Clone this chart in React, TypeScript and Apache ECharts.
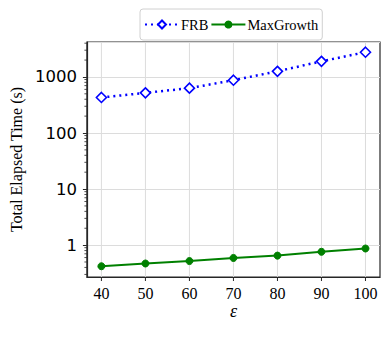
import React, { useEffect, useRef } from "react";
import * as echarts from "echarts";

const EPSILON = [40, 50, 60, 70, 80, 90, 100];
const FRB = [430, 520, 630, 875, 1260, 1900, 2760];
const MAX_GROWTH = [0.42, 0.47, 0.52, 0.59, 0.65, 0.76, 0.87];
const MINOR_TICKS = [
  0.3, 0.4, 0.5, 0.6, 0.7, 0.8, 0.9,
  2, 3, 4, 5, 6, 7, 8, 9,
  20, 30, 40, 50, 60, 70, 80, 90,
  200, 300, 400, 500, 600, 700, 800, 900,
  2000, 3000, 4000,
];
const X_MIN = 36.7;
const X_MAX = 103.3;
const Y_MIN = 0.27;
const Y_MAX = 4200;

export default function App() {
  const ref = useRef<HTMLDivElement>(null);
  useEffect(() => {
    if (!ref.current) return;
    const chart = echarts.init(ref.current, null, { renderer: "svg" });
    const serif = "Liberation Serif";
    chart.setOption({
      animation: false,
      backgroundColor: "#fff",
      grid: {
        left: 85,
        right: 11,
        top: 42,
        bottom: 60,
        show: true,
        borderColor: "#262626",
        borderWidth: 1.2,
        backgroundColor: "transparent",
      },
      legend: {
        top: 9,
        left: 140,
        data: ["FRB", "MaxGrowth"],
        itemWidth: 34,
        itemHeight: 10,
        itemGap: 2,
        borderColor: "#d0d0d0",
        borderWidth: 1,
        borderRadius: 3,
        padding: [8, 4, 8, 4],
        textStyle: { fontFamily: serif, fontSize: 14.5, color: "#000", padding: [0, 0, 0, -3] },
      },
      xAxis: {
        type: "value",
        min: X_MIN,
        max: X_MAX,
        name: "ε",
        nameLocation: "middle",
        nameGap: 32,
        nameTextStyle: { fontFamily: serif, fontStyle: "italic", fontSize: 18, color: "#000", lineHeight: 4 },
        axisLine: { show: true, lineStyle: { color: "#262626", width: 1.2 } },
        axisTick: { show: false },
        axisLabel: { show: false },
        splitLine: { show: false },
      },
      yAxis: {
        type: "log",
        logBase: 10,
        min: Y_MIN,
        max: Y_MAX,
        name: "Total Elapsed Time (s)",
        nameLocation: "middle",
        nameGap: 62,
        nameTextStyle: { fontFamily: serif, fontSize: 16, color: "#000" },
        axisLine: { show: true, lineStyle: { color: "#262626", width: 1.2 } },
        axisTick: { show: true, length: 4, lineStyle: { color: "#262626" } },
        axisLabel: {
          showMinLabel: false,
          showMaxLabel: false,
          fontFamily: "DejaVu Sans",
          fontSize: 16.5,
          color: "#000",
          margin: 10,
          formatter: (v: number) => {
            const l = Math.log10(v);
            return Math.abs(l - Math.round(l)) < 1e-6 ? String(Math.round(v)) : "";
          },
        },
        splitLine: { show: true, lineStyle: { color: "#dcdcdc", width: 1 } },
      },
      series: [
        {
          name: "xgrid",
          type: "custom",
          silent: true,
          legendHoverLink: false,
          data: EPSILON.map((x) => [x, Y_MIN]),
          renderItem: (params: any, api: any) => {
            const x = api.value(0);
            const p0 = api.coord([x, Y_MIN]);
            const p1 = api.coord([x, Y_MAX]);
            return {
              type: "group",
              children: [
                {
                  type: "line",
                  shape: { x1: p0[0], y1: p0[1], x2: p1[0], y2: p1[1] },
                  style: { stroke: "#dcdcdc", lineWidth: 1 },
                },
                {
                  type: "line",
                  shape: { x1: p0[0], y1: p0[1], x2: p0[0], y2: p0[1] + 4 },
                  style: { stroke: "#262626", lineWidth: 1 },
                },
                {
                  type: "text",
                  x: p0[0],
                  y: p0[1] + 16,
                  style: {
                    text: String(x),
                    fontFamily: serif,
                    fontSize: 16,
                    lineHeight: 10,
                    fill: "#000",
                    align: "center",
                    verticalAlign: "middle",
                  },
                },
              ],
            };
          },
          z: 0,
        },
        {
          name: "minor",
          type: "custom",
          silent: true,
          legendHoverLink: false,
          data: MINOR_TICKS.map((v) => [X_MIN, v]),
          renderItem: (params: any, api: any) => {
            const p = api.coord([api.value(0), api.value(1)]);
            return {
              type: "line",
              shape: { x1: p[0] - 2.5, y1: p[1], x2: p[0], y2: p[1] },
              style: { stroke: "#262626", lineWidth: 0.8 },
            };
          },
          z: 1,
        },
        {
          name: "FRB",
          type: "line",
          data: EPSILON.map((x, i) => [x, FRB[i]]),
          symbol: "diamond",
          symbolSize: 10,
          showSymbol: true,
          lineStyle: { color: "#0000ff", width: 2.5, type: [2, 4] },
          itemStyle: { color: "#fff", borderColor: "#0000ff", borderWidth: 1.6 },
          z: 3,
        },
        {
          name: "MaxGrowth",
          type: "line",
          data: EPSILON.map((x, i) => [x, MAX_GROWTH[i]]),
          symbol: "circle",
          symbolSize: 7,
          lineStyle: { color: "#008000", width: 2 },
          itemStyle: { color: "#008000", borderColor: "#008000" },
          z: 3,
        },
      ],
    });
    return () => chart.dispose();
  }, []);
  return <div ref={ref} style={{ width: 391, height: 337, position: "absolute", left: 0, top: 0 }} />;
}
